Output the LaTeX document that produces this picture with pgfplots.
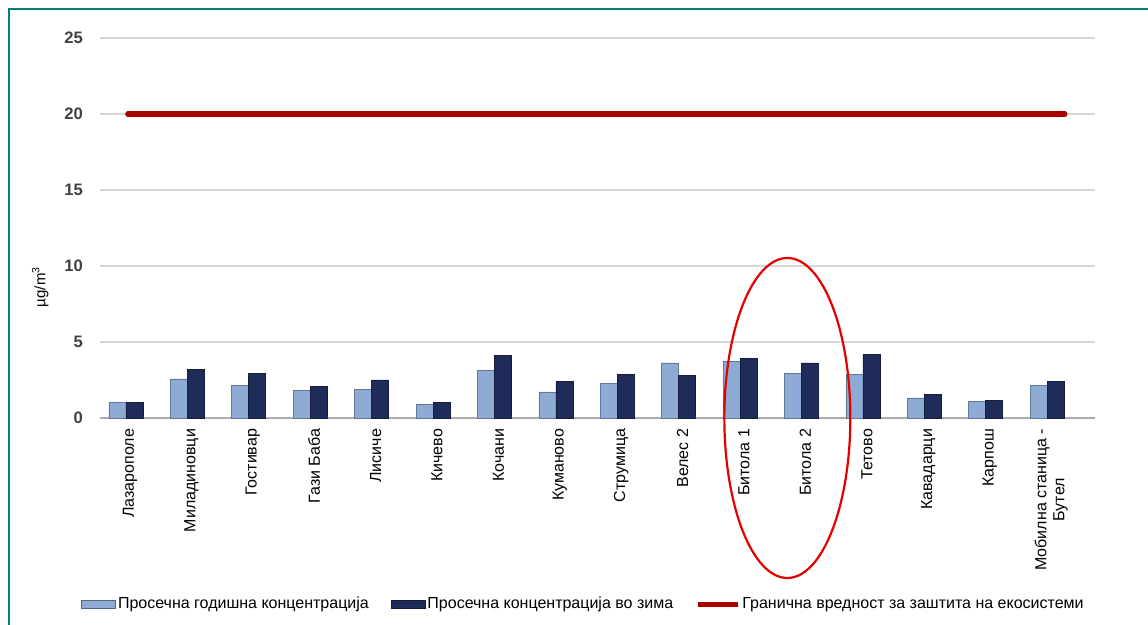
\documentclass[border=0pt]{standalone}
\usepackage{fontspec}
\setmainfont{Liberation Sans}
\usepackage{pgfplots}
\pgfplotsset{compat=1.18}

\definecolor{frameteal}{RGB}{0,128,120}
\definecolor{lightbar}{RGB}{141,171,212}
\definecolor{darkbar}{RGB}{31,43,88}
\definecolor{limitred}{RGB}{170,0,0}
\definecolor{gridgray}{RGB}{215,215,215}

\begin{document}
\begin{tikzpicture}
\useasboundingbox (0,0) rectangle (574pt,312.5pt);
\draw[frameteal, line width=1.2pt] (4.5pt,-2pt) -- (4.5pt,308pt) -- (580pt,308pt);
\begin{axis}[
    at={(50pt,103.5pt)}, anchor=south west,
    scale only axis, width=497.5pt, height=190pt,
    xmin=-0.423, xmax=15.78, ymin=0, ymax=25,
    ytick={0,5,...,25},
    xtick={0,...,15},
    xticklabels={Лазарополе, Миладиновци, Гостивар, Гази Баба, Лисиче, Кичево, Кочани, Куманово, Струмица, Велес 2, Битола 1, Битола 2, Тетово, Кавадарци, Карпош, {Мобилна станица -\\Бутел}},
    xticklabel style={rotate=90, anchor=east, align=center, font=\fontsize{8}{9}\selectfont, inner sep=1pt, yshift=-2pt},
    yticklabel style={font=\fontsize{8.3}{9}\selectfont\bfseries, text=black!75, xshift=-5pt},
    /pgf/number format/assume math mode=true,
    axis line style={draw=none},
    axis x line*=bottom,
    x axis line style={draw=gridgray!80!black, line width=0.6pt},
    tick style={draw=none},
    ymajorgrids, grid style={gridgray, line width=0.6pt},
    ylabel={\textmu g/m\textsuperscript{3}},
    ylabel style={at={(rel axis cs:-0.06,0.345)}, anchor=center, font=\fontsize{7.5}{9}\selectfont},
    ybar=0pt, bar width=8.5pt,
    clip=false,
    legend columns=3,
    legend style={at={(rel axis cs:0.486,-0.49)}, anchor=center, draw=none,
        font=\fontsize{8}{9}\selectfont,
        nodes={inner xsep=1pt},
        /tikz/every odd column/.append style={column sep=0pt},
        /tikz/every even column/.append style={column sep=10pt}},
]
\addplot[fill=lightbar, draw=lightbar!70!black, line width=0.3pt,
    legend image code/.code={\fill[lightbar, draw=lightbar!60!black] (0pt,-2pt) rectangle (17pt,2pt);}]
    coordinates {(0,1.00) (1,2.57) (2,2.17) (3,1.80) (4,1.89) (5,0.92) (6,3.11) (7,1.71)
                 (8,2.28) (9,3.62) (10,3.70) (11,2.92) (12,2.85) (13,1.32) (14,1.07) (15,2.17)};
\addlegendentry{Просечна годишна концентрација}
\addplot[fill=darkbar, draw=darkbar!70!black, line width=0.3pt,
    legend image code/.code={\fill[darkbar, draw=darkbar!60!black] (0pt,-2pt) rectangle (17pt,2pt);}]
    coordinates {(0,1.00) (1,3.20) (2,2.94) (3,2.06) (4,2.50) (5,1.05) (6,4.10) (7,2.39)
                 (8,2.87) (9,2.78) (10,3.90) (11,3.62) (12,4.19) (13,1.54) (14,1.14) (15,2.39)};
\addlegendentry{Просечна концентрација во зима}
\addplot[sharp plot, limitred, line width=2.6pt, line cap=round, forget plot]
    coordinates {(0.03,20) (15.29,20)};
\addlegendimage{limitred, line width=2.6pt, legend image code/.code={\draw[limitred, line width=2.6pt] (0pt,0pt) -- (20pt,0pt);}}
\addlegendentry{Гранична вредност за заштита на екосистеми}
\draw[red!90!black, line width=1.1pt] (axis cs:10.77,0) ellipse [x radius=31.5pt, y radius=80pt];
\end{axis}
\end{tikzpicture}
\end{document}
